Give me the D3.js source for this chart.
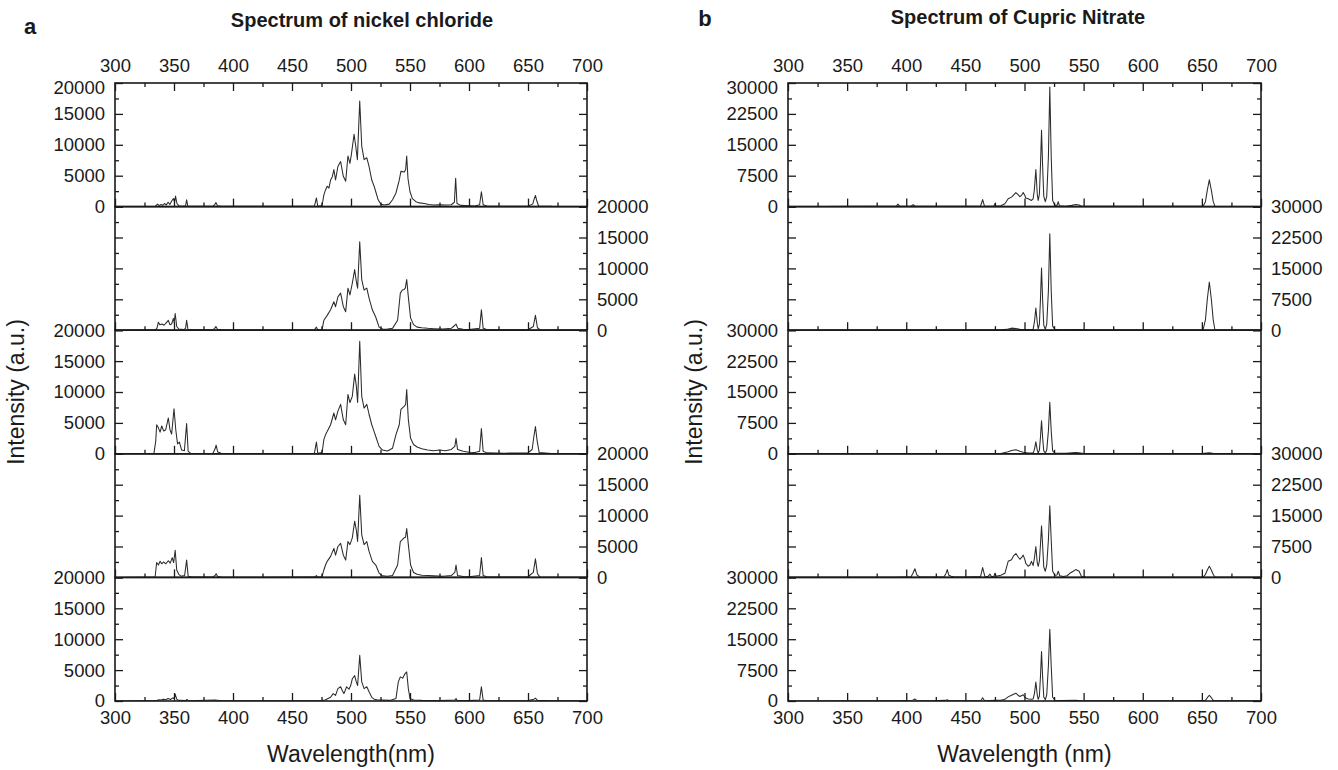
<!DOCTYPE html>
<html>
<head>
<meta charset="utf-8">
<script src="https://cdn.jsdelivr.net/npm/d3@7"></script>
<style>
  body { margin: 0; background: #fff; }
  svg text { font-family: "Liberation Sans", Arial, Helvetica, sans-serif; fill: #1a1a1a; }
  .tick-label text { font-size: 18.5px; }
</style>
</head>
<body>
<svg id="fig" width="1338" height="770"></svg>
<script>
// ---- axis ticks ----
const wavelengthTicks = [300, 350, 400, 450, 500, 550, 600, 650, 700];
const wavelengthMinorTicks = [325, 375, 425, 475, 525, 575, 625, 675];
const nickelTicks = [0, 5000, 10000, 15000, 20000];
const nickelMinorTicks = [2500, 7500, 12500, 17500];
const cupricTicks = [0, 7500, 15000, 22500, 30000];
const cupricMinorTicks = [3750, 11250, 18750, 26250];

// ---- nickel chloride spectra, top to bottom: [wavelength nm, intensity a.u.] ----
const nickel1 = [[300,0],[320,30],[334,40],[336,400],[337.5,150],[339,350],[340.5,200],[342,500],[343.5,250],[345,700],[346.5,350],[348,900],[349.5,1300],[350.5,700],[351.3,1700],[352.5,500],[354,150],[357,60],[359.8,120],[360.7,1100],[361.7,100],[365,50],[383,60],[384.5,300],[385.5,650],[386.8,150],[390,50],[420,40],[469,60],[470.7,1400],[471.8,80],[474.5,100],
  [475.6,300],[477,1900],[478.4,2700],[479.8,3300],[481.3,3000],[482.7,4300],[484.1,4800],[485.5,6000],[486.9,4300],[488.9,6500],[491.2,7300],[493.5,4900],[495.5,4100],[497.4,8200],[499.1,7000],[500.3,8400],[502.6,11700],[504,9800],[505.4,7600],[507.4,17100],[509.1,9800],[511.1,7600],[513.4,7900],[515.3,6500],[517.6,4300],[519.6,3300],[521,2400],[523,1100],[525.3,400],[528.1,250],[532.4,400],[535.2,1100],[538.1,2200],[540.9,4300],[542.3,5700],[545.2,5600],[546.3,6000],[547.2,8200],[548.3,4500],[550,2400],[552,1300],[555,800],[558,600],[562,500],[566,350],[570,250],[575,300],[580,250],[585,300],[587.6,700],[588.7,4600],[589.8,500],[593,200],[600,150],[605,100],[609,300],[610.5,2400],[612,300],[615,100],[630,60],[650,80],[654,400],[655,1100],[656.3,1800],[657.5,900],[659,100],[670,40],[700,30]];
const nickel2 = [[300,0],[320,30],[334,50],[335.5,300],[336.8,1300],[338,900],[340,1000],[341.5,800],[343,1100],[345.2,1600],[346.5,900],[348,1000],[349.5,1900],[350.2,1200],[351,2700],[352.3,600],[354,200],[358,100],[359.8,300],[360.7,1600],[361.8,150],[365,60],[383,80],[384.5,300],[385.5,600],[386.8,150],[390,50],[420,40],[469,50],[470.7,500],[471.8,60],[474.5,80],
  [475.6,200],[477,1600],[479.8,2400],[482.7,3300],[485.5,4600],[486.9,3800],[488.9,5400],[491.2,6000],[493.5,3800],[495.5,3000],[497.4,6800],[499.1,5700],[501.1,7600],[503.1,9800],[504.5,7900],[505.6,6800],[507.4,14300],[509.1,8200],[511.1,6500],[513.4,6800],[515.3,5200],[518.1,3300],[521,2100],[523.8,500],[526.7,200],[530,150],[535.2,300],[539.5,1600],[541.8,6000],[543.5,6500],[545,6600],[546,6800],[547.2,8200],[548.6,5400],[550.5,2000],[553,900],[556,500],[560,400],[565,300],[570,250],[578,200],[585,300],[588,800],[589,1000],[590.5,300],[595,150],[600,100],[609,300],[610.5,3300],[612,300],[615,100],[630,60],[650,80],[654.5,600],[656.3,2400],[658,400],[660,80],[670,40],[700,30]];
const nickel3 = [[300,0],[320,40],[333,60],[334.5,2000],[335.3,4700],[336.8,4200],[338.2,3500],[339.6,4500],[341.2,3700],[343,3900],[345.2,5800],[346.6,3900],[348,3200],[350,7300],[351.5,3900],[353,1600],[354.6,1900],[356.5,600],[358.8,500],[360.7,4900],[362,400],[364,100],[370,60],[383,100],[384.8,800],[385.7,1400],[387,300],[390,80],[420,60],[469,100],[470.7,1900],[471.8,100],[474.5,150],
  [475.6,300],[477,2300],[478.4,3100],[479.8,3600],[482.7,4700],[485.5,6600],[486.9,5500],[488.9,6900],[491.2,8000],[493.5,5500],[495.5,4700],[497.4,9600],[499.1,8300],[501.1,9300],[503.1,12900],[504.5,11000],[505.6,8300],[507.4,18200],[509.1,9300],[511.1,7400],[513.4,8000],[515.3,6400],[517.6,4700],[519.6,3600],[521,2800],[523.8,1200],[526.7,600],[530.9,450],[535.2,900],[538.1,3100],[540.9,4700],[542.3,7200],[545.2,7700],[546.3,8000],[547.2,10400],[548.6,5500],[550.5,2500],[553,1500],[556,1100],[560,800],[565,600],[570,500],[575,600],[580,500],[585,700],[588,1200],[589,2500],[590.3,700],[595,400],[600,250],[605,200],[609,400],[610.5,4100],[612,400],[615,150],[630,100],[650,150],[653.5,700],[655,2800],[656.3,4400],[657.8,2000],[659.5,200],[670,60],[700,40]];
const nickel4 = [[300,0],[320,40],[334,60],[335.3,2400],[336.8,2000],[338.2,2600],[339.6,2200],[341.2,2500],[343,2200],[345.2,2700],[346.8,2300],[348.5,3200],[349.7,2400],[351,4400],[352.3,1200],[354,500],[356,200],[359,300],[360.7,2800],[362,200],[365,80],[383,60],[384.8,300],[385.7,600],[387,150],[390,50],[420,40],[469,50],[470.7,300],[471.8,50],[474.5,80],
  [475.6,200],[477,1200],[478.4,2000],[479.8,2600],[482.7,3400],[485.5,4700],[486.9,3600],[488.9,5000],[491.2,5500],[493.5,3600],[495.5,2800],[497.4,5800],[499.1,5300],[501.1,6400],[503.1,9100],[504.5,7700],[505.6,5800],[507.4,13300],[509.1,6900],[511.1,5300],[513.4,5800],[515.3,4200],[518.1,2600],[521,2000],[523.8,700],[526.7,250],[530.9,200],[535.2,300],[539.5,2000],[541.8,5800],[543.5,6100],[545,6400],[546.2,6500],[547.2,7900],[548.6,5300],[550.5,2000],[553,800],[556,500],[560,350],[565,300],[570,250],[578,200],[585,300],[588,800],[589,2000],[590.3,300],[595,150],[600,100],[609,300],[610.5,3200],[612,300],[615,100],[630,60],[650,100],[654.5,800],[656.3,3000],[658,600],[660,80],[670,40],[700,30]];
const nickel5 = [[300,0],[320,30],[335,50],[337,200],[339,150],[341,300],[343,200],[345,400],[347,250],[349,500],[350,400],[351,1100],[352.3,300],[354,100],[360,60],[361,250],[362,50],[385,150],[390,40],[420,40],[470,40],[474.5,60],
  [478,150],[482.7,600],[484.9,1200],[486.9,900],[488.9,2000],[491.2,2300],[492.6,1700],[494,1200],[496.3,2300],[498.3,1900],[499.7,2500],[501.1,3600],[503.1,4100],[504.5,3100],[505.6,2500],[507.4,7400],[509.1,3100],[511.1,2000],[513.4,2300],[515.3,1500],[517.6,600],[519.6,300],[522,200],[527,150],[533,100],[538.1,400],[540.1,3100],[541.8,3900],[543.8,3700],[545.7,4400],[547.2,4700],[548.6,2000],[550,400],[553,150],[560,100],[575,80],[588,150],[589,400],[590,80],[600,60],[609,150],[610.5,2300],[612,150],[615,50],[650,60],[655,300],[656.3,450],[658,100],[670,30],[700,20]];

// ---- cupric nitrate spectra, top to bottom ----
const cupric1 = [[300,0],[330,40],[360,50],[391.5,60],[393,600],[394.5,60],[404,80],[405.8,500],[407.5,80],[420,50],[440,50],[462.8,80],[464.6,1700],[466.2,80],[474,100],[475,700],[476,100],[480,200],[483.4,700],[486.2,1900],[489,2300],[490.7,2800],[492.7,3400],[494.5,2900],[496.1,2400],[497.7,2800],[498.9,3400],[500.3,2700],[501.1,2100],[503.1,1900],[505.9,1500],[507.3,1900],[508.3,4000],[509.6,9000],[510.8,3000],[511.6,1500],[512.6,3000],[513.5,10000],[514.4,18500],[515.3,10000],[516.3,2500],[517.6,1200],[518.8,2500],[520.2,12000],[521.4,29000],[522.6,12000],[523.8,1500],[525.7,300],[527.5,300],[528.5,1200],[529.5,200],[535,100],[540,300],[543.4,500],[546.2,400],[548.2,100],[560,60],[600,50],[640,50],[651,100],[653,1200],[654.6,4000],[656.3,6500],[658,4000],[659.6,1200],[661,100],[670,40],[700,40]];
const cupric2 = [[300,0],[350,40],[400,50],[450,40],[480,60],[486.2,300],[489,500],[492.7,400],[496.1,200],[500,150],[505,100],[507.3,200],[508.4,2000],[509.6,5400],[510.8,1800],[511.6,300],[512.6,1500],[513.5,7500],[514.4,15100],[515.3,7500],[516.3,1200],[517.6,200],[518.8,1500],[520.2,9500],[521.4,23400],[522.6,9500],[523.8,1000],[525.7,200],[530,100],[545,150],[560,60],[600,50],[640,50],[651,100],[653,2500],[654.6,7500],[656.3,11700],[658,7500],[659.6,2500],[661,100],[670,40],[700,40]];
const cupric3 = [[300,0],[350,40],[400,50],[450,40],[480,80],[486.2,500],[489,800],[492.7,1000],[496.1,600],[499,400],[503,200],[507.3,200],[508.4,1000],[509.6,2900],[510.8,900],[511.6,200],[512.6,900],[513.5,4000],[514.4,8000],[515.3,4000],[516.3,700],[517.6,200],[518.8,900],[520.2,5500],[521.4,12500],[522.6,5500],[523.8,700],[525.7,150],[535,100],[543,300],[546,250],[550,60],[600,50],[650,60],[656.3,250],[660,50],[700,40]];
const cupric4 = [[300,0],[330,40],[360,50],[390,60],[404,150],[405.5,900],[407.3,2100],[409,600],[411,150],[420,100],[432,150],[433.5,900],[434.7,1900],[436,500],[438,300],[440,150],[450,100],[462.8,200],[464.6,2400],[466.4,300],[469,200],[470.8,800],[472,200],[474,200],[475,1000],[476,300],[480,500],[483.4,1000],[486.2,3900],[489,4300],[490.7,5200],[492.7,5800],[494.5,5000],[496.1,4400],[497.7,4900],[498.9,5400],[500.3,4300],[501.1,3400],[503.1,2700],[504.6,3000],[505.9,3900],[507.3,2900],[508.3,4500],[509.6,7500],[510.8,3500],[511.6,2700],[512.6,4000],[513.5,8000],[514.4,12500],[515.3,8000],[516.3,2500],[517.6,1500],[518.8,3000],[520.2,9000],[521.4,17400],[522.6,9000],[523.8,1500],[525.7,500],[527.5,600],[528.5,1500],[529.8,400],[533,200],[536,400],[538.3,1000],[541.2,1500],[543.4,1900],[546.2,1500],[548.2,200],[552,80],[570,60],[600,60],[640,60],[651,100],[653,700],[654.6,1800],[656.3,2700],[658,1800],[659.6,700],[661,100],[670,50],[700,40]];
const cupric5 = [[300,0],[350,40],[390,50],[405.5,200],[407.3,500],[409,100],[420,60],[433.5,150],[434.7,300],[436,80],[450,50],[463,80],[464.6,800],[466.2,80],[475,150],[480,200],[483.4,400],[486.2,1000],[489,1400],[492.7,1900],[494.5,1400],[496.1,1100],[498.9,1500],[500.3,900],[501.1,700],[503.1,500],[505.9,400],[507.3,500],[508.4,1800],[509.6,4600],[510.8,1500],[511.6,400],[512.6,1200],[513.5,6000],[514.4,12000],[515.3,6000],[516.3,1000],[517.6,300],[518.8,1500],[520.2,8500],[521.4,17400],[522.6,8500],[523.8,900],[525.7,200],[530,100],[543,200],[548,80],[600,50],[640,50],[653,150],[654.6,800],[656.3,1400],[658,800],[659.6,150],[662,50],[700,40]];

const nickelSpectra = [nickel1, nickel2, nickel3, nickel4, nickel5];
const cupricSpectra = [cupric1, cupric2, cupric3, cupric4, cupric5];

// ---- layout ----
const svg = d3.select("#fig");
const stackTop = 83, stackBottom = 701, rows = 5;
const rowH = (stackBottom - stackTop) / rows;
const ink = "#1a1a1a";

const figures = [
  { letter: "a", letterX: 30, letterY: 34, title: "Spectrum of nickel chloride", titleX: 362, titleY: 27,
    left: 115, right: 587, yMax: 20000, yTicks: nickelTicks, yMinor: nickelMinorTicks,
    spectra: nickelSpectra, xTitle: "Wavelength(nm)", yTitleX: 24 },
  { letter: "b", letterX: 705, letterY: 26, title: "Spectrum of Cupric Nitrate", titleX: 1018, titleY: 24,
    left: 788, right: 1261, yMax: 30000, yTicks: cupricTicks, yMinor: cupricMinorTicks,
    spectra: cupricSpectra, xTitle: "Wavelength (nm)", yTitleX: 702 }
];

const fmt = d3.format("d");

figures.forEach((f, fi) => {
  const x = d3.scaleLinear().domain([300, 700]).range([f.left, f.right]);
  const g = svg.append("g");

  f.spectra.forEach((spec, r) => {
    const y0 = stackTop + r * rowH, y1 = y0 + rowH;
    const y = d3.scaleLinear().domain([0, f.yMax]).range([y1, y0]);
    const clipId = `clip-${fi}-${r}`;
    svg.append("clipPath").attr("id", clipId)
      .append("rect").attr("x", f.left).attr("y", y0).attr("width", f.right - f.left).attr("height", rowH);

    // spectrum trace
    g.append("path")
      .datum(spec)
      .attr("clip-path", `url(#${clipId})`)
      .attr("fill", "none")
      .attr("stroke", "#2b2b2b")
      .attr("stroke-width", 1.05)
      .attr("stroke-linejoin", "round")
      .attr("d", d3.line().x(d => x(d[0])).y(d => y(d[1])));

    const showLeft = r % 2 === 0, showRight = r % 2 === 1;

    const addAxis = (axis, tx, ty, cls) => {
      const a = g.append("g").attr("transform", `translate(${tx},${ty})`).attr("class", cls || "").call(axis);
      a.select(".domain").remove();
      a.attr("color", ink).attr("font-size", 18.5);
      a.selectAll("line").attr("stroke-width", 1.3);
      return a;
    };

    // left axis
    const la = addAxis(d3.axisLeft(y).tickValues(f.yTicks).tickSizeInner(-8).tickSizeOuter(0).tickPadding(10)
      .tickFormat(showLeft ? fmt : () => ""), f.left, 0, "tick-label");
    addAxis(d3.axisLeft(y).tickValues(f.yMinor).tickSizeInner(-4).tickSizeOuter(0).tickFormat(() => ""), f.left, 0);
    // right axis
    addAxis(d3.axisRight(y).tickValues(f.yTicks).tickSizeInner(-8).tickSizeOuter(0).tickPadding(10)
      .tickFormat(showRight ? fmt : () => ""), f.right, 0, "tick-label");
    addAxis(d3.axisRight(y).tickValues(f.yMinor).tickSizeInner(-4).tickSizeOuter(0).tickFormat(() => ""), f.right, 0);
    if (r === 0) {
      la.selectAll(".tick").filter(d => d === f.yMax).select("text").attr("y", 5);
    }

    // bottom ticks of each row (labels only on the last row)
    addAxis(d3.axisBottom(x).tickValues(wavelengthTicks).tickSizeInner(-8).tickSizeOuter(0).tickPadding(10)
      .tickFormat(r === rows - 1 ? fmt : () => ""), 0, y1, "tick-label");
    addAxis(d3.axisBottom(x).tickValues(wavelengthMinorTicks).tickSizeInner(-4).tickSizeOuter(0).tickFormat(() => ""), 0, y1);

    if (r === 0) {
      addAxis(d3.axisTop(x).tickValues(wavelengthTicks).tickSizeInner(-8).tickSizeOuter(0).tickPadding(11)
        .tickFormat(fmt), 0, y0, "tick-label");
      addAxis(d3.axisTop(x).tickValues(wavelengthMinorTicks).tickSizeInner(-4).tickSizeOuter(0).tickFormat(() => ""), 0, y0);
    }

    // row frame
    g.append("rect")
      .attr("x", f.left).attr("y", y0).attr("width", f.right - f.left).attr("height", rowH)
      .attr("fill", "none").attr("stroke", ink).attr("stroke-width", 1.6);
  });

  // titles
  g.append("text").attr("x", f.letterX).attr("y", f.letterY).attr("text-anchor", "middle")
    .attr("font-size", 22).attr("font-weight", "bold").text(f.letter);
  g.append("text").attr("x", f.titleX).attr("y", f.titleY).attr("text-anchor", "middle")
    .attr("font-size", 20).attr("font-weight", "bold").text(f.title);
  g.append("text").attr("x", (f.left + f.right) / 2).attr("y", 762).attr("text-anchor", "middle")
    .attr("font-size", 23).text(f.xTitle);
  g.append("text").attr("transform", `translate(${f.yTitleX},${(stackTop + stackBottom) / 2}) rotate(-90)`)
    .attr("text-anchor", "middle").attr("font-size", 23).text("Intensity (a.u.)");
});
</script>
</body>
</html>
